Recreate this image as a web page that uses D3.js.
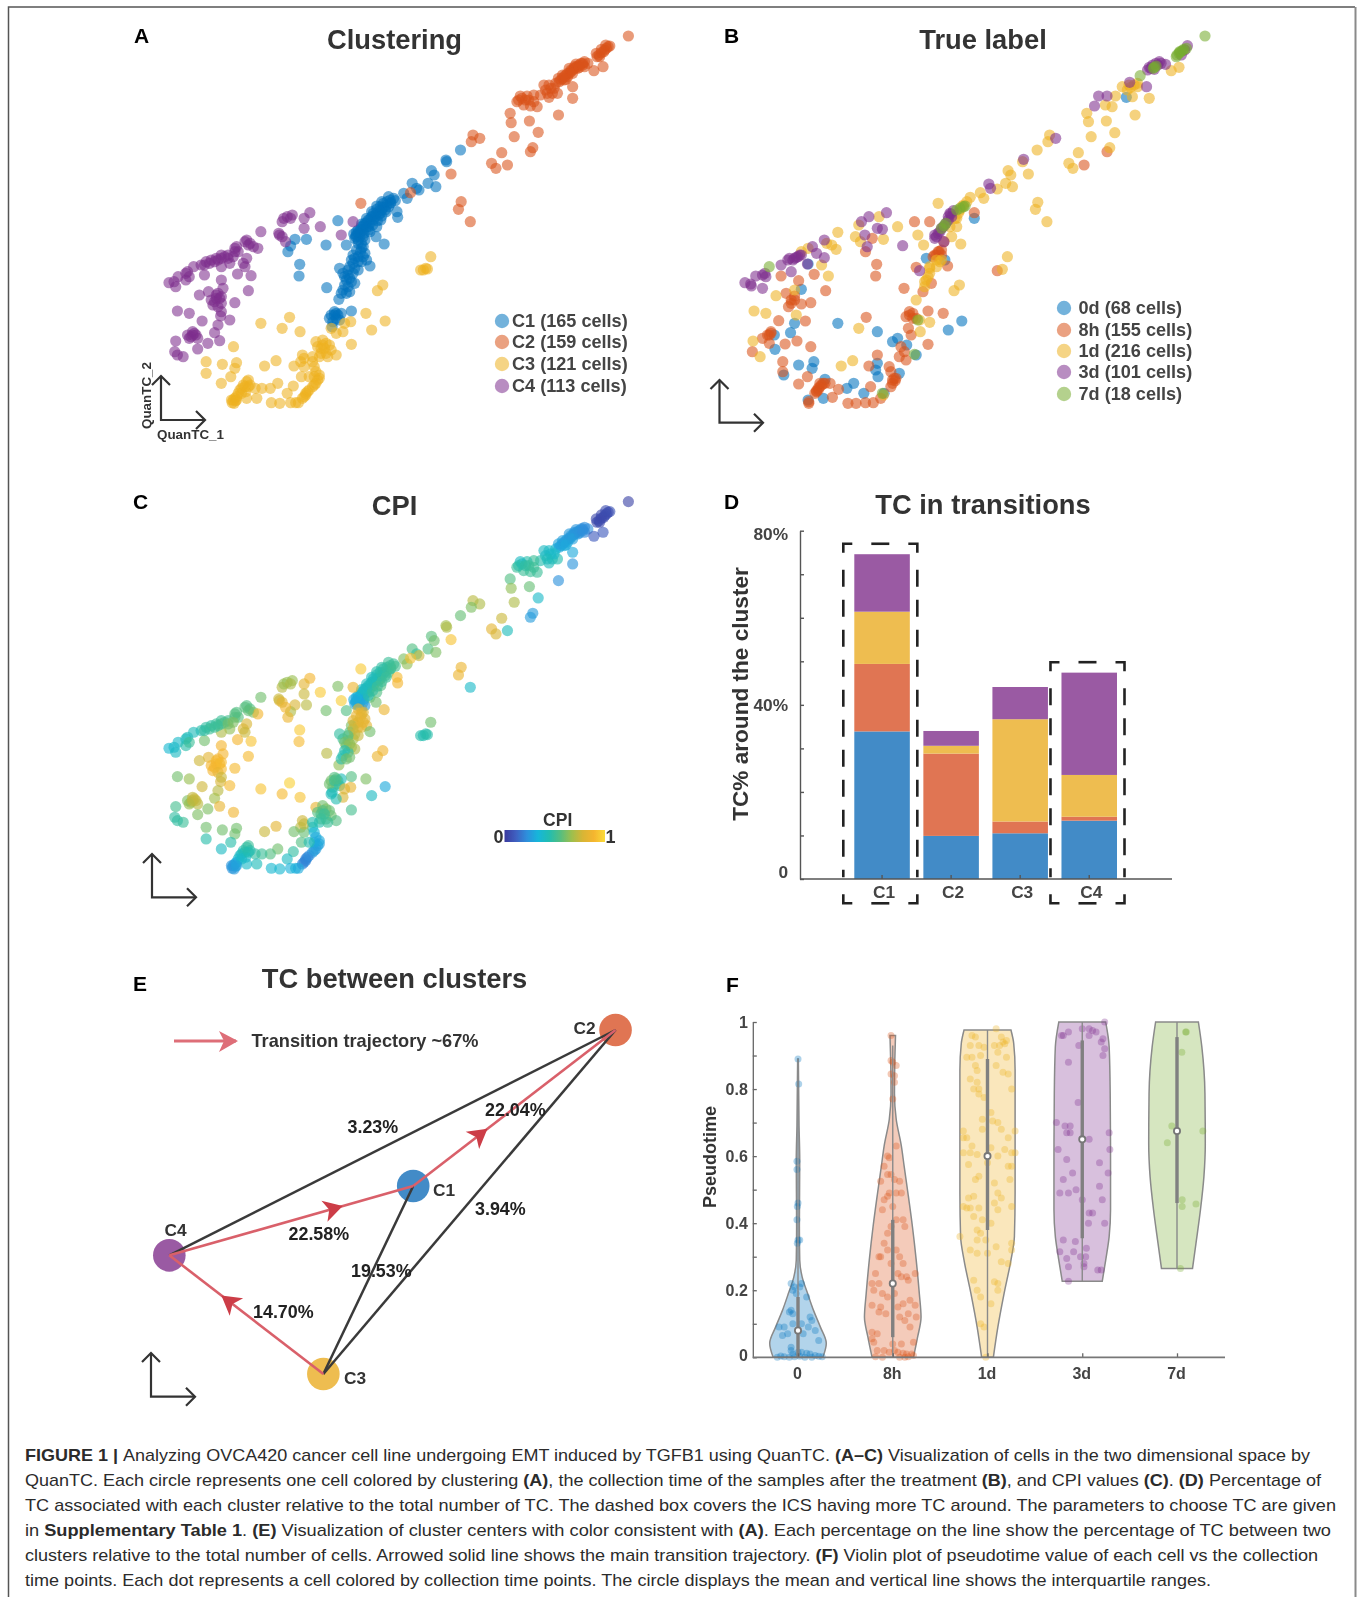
<!DOCTYPE html>
<html><head><meta charset="utf-8">
<style>
html,body{margin:0;padding:0;background:#fff}
svg{display:block;font-family:"Liberation Sans",Arial,sans-serif}
#chart{filter:blur(0.55px)}
</style>
<script src="https://cdn.jsdelivr.net/npm/d3@7/dist/d3.min.js"></script>
</head><body><svg id="root" width="1362" height="1597"><g id="chart"></g><g id="cap"></g></svg>
<script>
// ---------- DATA ----------
const clusterLabels=["C1 (165 cells)","C2 (159 cells)","C3 (121 cells)","C4 (113 cells)"];
const timeLabels=["0d (68 cells)","8h (155 cells)","1d (216 cells)","3d (101 cells)","7d (18 cells)"];
// embedding coordinates [QuanTC_1, QuanTC_2 (downward), CPI]
const c1Cells=[[1008,420,.58],[965,450,.68],[967,455,.7],[922,482,.56],[930,495,.6],[912,520,.55],[935,530,.62],[865,520,.55],[878,535,.5],[840,550,.62],[850,565,.65],[885,540,.75],
[810,565,.5],[800,570,.5],[790,575,.48],[780,580,.46],[770,590,.44],[760,598,.42],[750,610,.4],[745,620,.4],[735,630,.38],[725,640,.38],[715,650,.36],[705,660,.34],[700,675,.3],[695,685,.28],[710,670,.3],[720,660,.36],[730,650,.42],[740,640,.46],[755,620,.45],[770,610,.48],[785,600,.5],[795,590,.5],[775,600,.5],[765,615,.55],[750,630,.55],[735,650,.5],[720,680,.3],[705,690,.3],[715,700,.85],[725,690,.25],[740,665,.55],[760,650,.55],[772,630,.55],[820,605,.9],[822,622,.88],[758,680,.6],[782,702,.85],[670,705,.55],[610,705,.6],[645,632,.62],[552,688,.72],[518,688,.78],[505,708,.7],[497,725,.86],[532,763,.95],[530,798,.9],[612,833,.72],
[720,710,.8],[712,725,.8],[725,730,.82],[705,740,.8],[695,745,.78],[685,750,.62],[715,755,.82],[730,750,.82],[740,768,.6],[680,770,.55],[695,775,.72],[650,775,.48],[660,790,.5],[675,795,.6],[690,790,.68],[705,780,.75],[670,810,.62],[685,815,.66],[695,820,.7],[675,830,.45],[660,840,.45],[680,845,.6],[648,868,.65],
[635,905,.55],[625,915,.6],[645,915,.55],[655,910,.42],[640,925,.5],[630,935,.55],[685,903,.55],[628,950,.42],
[800,580,.5],[790,585,.5],[780,592,.48],[770,600,.46],[760,610,.44],[750,618,.42],[740,628,.42],[730,638,.4],[720,648,.4],[712,658,.38],[705,668,.32],[698,680,.3],[710,680,.28],[722,670,.3],[735,660,.45],[748,645,.48],[762,632,.5],[775,618,.5],[788,605,.5],[802,578,.5],[815,572,.52],[795,560,.5],[775,575,.48],[760,588,.46],[745,605,.42],[730,625,.42],[715,642,.4],[700,665,.32],[692,672,.3],[705,700,.82],[715,715,.82],[700,720,.84],[690,735,.8],[720,740,.84],[705,755,.82],[690,760,.75],[675,780,.55],[665,800,.6],[680,805,.65],[665,825,.45],[655,850,.45],[670,850,.6],[620,925,.6],[635,915,.5],[650,930,.48],[640,910,.55]];
const c2Cells=[[1505,78,.03],[1450,108,.08],[1440,115,.07],[1435,120,.06],[1425,128,.05],[1418,135,.05],[1412,140,.05],
[1385,160,.22],[1370,160,.22],[1360,165,.24],[1350,172,.26],[1340,180,.27],[1330,190,.28],[1320,195,.28],[1310,205,.3],[1300,215,.3],[1355,175,.25],[1345,170,.24],[1335,185,.27],[1325,200,.3],[1315,210,.32],[1375,170,.2],
[1403,182,.1],[1430,170,.1],[1290,220,.36],[1270,225,.38],[1260,240,.38],[1280,250,.42],[1295,250,.45],[1270,262,.42],[1340,230,.3],[1245,255,.45],[1225,255,.5],[1205,258,.46],[1185,258,.4],[1175,275,.5],[1195,285,.5],[1215,288,.5],[1235,290,.5],[1190,265,.42],[1340,265,.24],[1298,315,.23],
[1155,310,.55],[1158,338,.65],[1212,333,.58],[1238,367,.38],[1167,380,.7],[1130,428,.75],[1222,413,.26],[1215,425,.26],[1100,460,.82],[1113,475,.78],[1147,465,.42],[980,492,.93],[1045,375,.72],[1065,385,.7],[1040,395,.62],[860,548,.92],[713,580,.95],[1010,575,.85],[1002,598,.85],[1037,635,.38],
[1305,210,.27],[1315,200,.26],[1325,190,.26],[1335,180,.25],[1345,175,.24],[1355,168,.24],[1365,160,.22],[1375,155,.22],[1310,195,.26],[1330,175,.25],[1350,162,.24],[1298,205,.28],[1320,208,.3],[1340,190,.27],[1360,172,.24],[1370,165,.22],[1445,110,.06],[1432,125,.05],[1420,140,.05],[1410,130,.05],[1425,118,.05],[1438,105,.06],[1275,235,.38],[1255,225,.4],[1285,235,.38],[1265,250,.42],[1210,270,.5],[1180,270,.46],[1200,270,.48],[1225,275,.5]];
const c3Cells=[[920,740,.6],[905,775,.46],[890,780,.46],[898,780,.44],[910,777,.46],[778,825,.87],[762,842,.85],[728,910,.62],[785,933,.3],[745,960,.4],[685,1003,.52],[683,935,.84],[665,940,.8],[660,965,.78],[640,970,.44],[625,955,.42],
[417,940,.93],[502,922,.97],[480,955,.9],[533,965,.93],[336,1010,.87],[255,1055,.6],[255,1090,.46],[303,1063,.6],[345,1058,.6],[340,1075,.6],[328,1100,.46],[300,1120,.4],[428,1068,.75],[462,1052,.82],
[580,995,.84],[600,990,.6],[610,1000,.62],[595,1015,.5],[610,1030,.5],[625,1020,.6],[640,1035,.55],[590,1040,.45],[540,1035,.76],[535,1055,.72],[570,1055,.42],[515,1068,.6],[545,1070,.58],[575,1070,.34],[580,1085,.3],[537,1100,.55],[590,1105,.27],[580,1120,.26],[570,1130,.26],[513,1128,.48],[495,1150,.4],[550,1150,.2],[545,1160,.2],[555,1145,.2],[505,1178,.32],[520,1178,.32],[473,1180,.36],[448,1178,.36],[467,1120,.6],[445,1135,.55],[420,1135,.5],[400,1135,.48],[380,1110,.5],[370,1130,.42],[385,1125,.45],[360,1135,.4],[350,1150,.36],[372,1145,.38],[405,1165,.42],[375,1165,.38],[340,1165,.25],[332,1178,.24],[330,1170,.24],[338,1180,.25],[342,1172,.25],
[355,1140,.4],[365,1125,.44],[375,1115,.48],[345,1160,.32],[335,1170,.25],[360,1150,.38],[380,1130,.44],[345,1170,.28],[550,1155,.2],[540,1165,.2],[560,1140,.22],[585,1110,.28],[575,1125,.26],[590,1095,.3],[575,1100,.3],[600,1005,.55],[620,1005,.58],[585,1010,.55],[605,1015,.5],[595,1030,.5],[615,1040,.5],[545,1045,.74],[570,1040,.45],[560,1100,.45],[528,1178,.3]];
const c4Cells=[[562,608,.88],[510,615,.66],[495,620,.66],[480,635,.72],[545,625,.82],[545,655,.75],[593,650,.95],[690,635,.86],[655,675,.96],[472,675,.8],[490,695,.88],[470,670,.75],[417,665,.6],
[375,690,.55],[385,700,.55],[395,710,.62],[408,715,.88],[340,715,.56],[350,725,.56],[320,735,.52],[300,735,.5],[285,745,.5],[270,750,.48],[255,755,.48],[240,765,.46],[375,745,.78],[365,760,.78],[370,770,.75],[325,760,.65],[300,770,.7],
[218,770,.42],[200,785,.42],[172,800,.38],[145,818,.36],[165,830,.4],[195,810,.46],[250,795,.6],[348,792,.88],[388,797,.93],[300,810,.88],[262,845,.82],[235,855,.76],[380,842,.9],[290,850,.88],[285,865,.9],[275,885,.88],[300,880,.9],[340,878,.9],[170,903,.6],[205,910,.66],[243,933,.76],[298,918,.78],[290,945,.72],[280,968,.68],[220,970,.76],[210,980,.7],[230,985,.72],[165,993,.52],[295,992,.84],[260,1000,.62],[230,1017,.62],[162,1025,.48],[187,1040,.5],[170,1035,.48],[200,975,.62],[325,930,.9],
[300,745,.52],[310,740,.54],[290,750,.5],[280,755,.5],[265,760,.5],[250,765,.48],[320,745,.6],[340,725,.56],[335,740,.62],[345,710,.55],[380,705,.58],[370,695,.56],[285,855,.9],[295,865,.9],[280,875,.9],[290,890,.84],[270,870,.88],[300,860,.9],[300,905,.75],[215,965,.74],[225,975,.74],[205,985,.66],[215,975,.74],[160,815,.38],[195,790,.42],[205,800,.5],[485,625,.66],[505,625,.7],[480,680,.82],[305,835,.88]];
// collection time cells, same space as read in panel B
const t0Cells=[[812,625],[670,745],[725,750],[300,838],[408,940],[280,940],[268,968],[525,965],[775,933],[735,960],[570,995],[585,985],[612,1005],[220,975],[222,1018],[292,1065],[337,1055],[332,1075],[248,1095],[525,1060],[520,1080],[527,1100],[590,1090],[640,1035],[455,1120],[435,1135],[485,1150],[545,1150],[365,1165],[370,1108],[320,1170],[1262,262],[320,762]];
const t8hCells=[[1205,425],[1137,465],[812,608],[635,635],[680,635],[510,685],[490,725],[722,695],[708,725],[690,740],[700,735],[523,763],[520,798],[733,768],[640,772],[880,782],[604,835],[660,845],[685,820],[338,793],[240,798],[292,812],[372,842],[255,850],[280,858],[270,880],[300,882],[328,878],[262,890],[233,932],[312,933],[620,905],[610,920],[630,910],[640,925],[675,903],[720,910],[492,922],[617,955],[625,975],[210,970],[200,975],[185,985],[205,1000],[287,993],[252,1002],[328,1010],[155,1025],[595,1010],[605,1025],[590,1040],[610,1050],[675,1003],[245,1055],[245,1085],[500,1068],[525,1035],[560,1070],[565,1085],[318,1100],[292,1122],[505,1130],[575,1105],[570,1120],[565,1130],[360,1125],[350,1135],[340,1150],[370,1120],[385,1120],[410,1138],[392,1162],[438,1180],[462,1180],[490,1178],[513,1178],[535,1165],[322,1180],[322,1175],[355,1130],[345,1142],[578,1112],[715,720],[705,725],[695,735],[715,735],[350,1140],[365,1120],[345,1145],[355,1120],[570,1110],[580,1105],[210,965],[205,975],[620,915],[630,925],[270,870],[280,870]];
const t1dCells=[[1418,172],[1395,182],[1330,265],[1288,315],[1145,310],[1150,335],[1203,333],[1228,368],[1158,380],[1120,428],[1213,413],[1092,460],[1104,475],[1035,375],[1030,395],[998,420],[955,455],[912,482],[920,495],[972,492],[905,520],[925,530],[880,537],[830,548],[840,565],[800,562],[705,580],[1000,577],[993,598],[1027,635],[910,740],[895,778],[768,825],[752,842],[772,702],[662,705],[645,675],[745,680],[640,870],[680,790],[670,810],[665,830],[710,755],[700,770],[680,775],[650,930],[680,937],[652,965],[470,955],[452,1052],[418,1068],[1250,230],[1270,225],[1295,230],[1280,260],[1230,258],[1220,290],[1200,285],[1265,240],[585,650],[543,688],[530,620],[470,645],[460,680],[475,695],[408,667],[390,705],[403,718],[375,700],[360,765],[380,798],[225,857],[160,903],[195,910],[285,915],[157,993],[178,1040],[300,725],[320,715],[280,840],[755,625],[765,610],[760,650],[775,590],[740,650],[543,1155],[700,750],[715,750],[675,800],[665,815],[680,770],[1285,225],[1295,220],[1275,232],[760,625],[770,600],[780,585],[790,575]];
const t3dCells=[[1443,107],[1360,155],[1340,165],[1325,180],[1378,163],[1350,160],[1335,175],[1322,230],[1272,217],[1180,258],[1205,258],[1168,288],[1053,385],[958,448],[855,522],[860,535],[552,608],[500,620],[478,635],[525,655],[540,658],[488,675],[495,710],[600,707],[740,610],[735,630],[720,650],[700,680],[722,695],[745,620],[710,665],[695,685],[650,782],[368,690],[333,710],[345,730],[368,743],[295,735],[280,745],[260,750],[240,765],[270,785],[192,790],[165,798],[133,818],[152,828],[185,835],[318,762],[285,742],[195,800],[150,822],[1355,165],[1345,178],[1365,160],[1330,172],[1435,120],[1425,135],[735,620],[728,640],[715,655],[705,670],[742,612],[750,602],[695,675],[300,735],[290,740],[275,750],[265,745],[185,795]];
const t7dCells=[[1495,78],[1440,115],[1428,122],[1418,130],[1410,140],[1422,126],[1345,172],[1303,197],[785,588],[760,600],[723,647],[205,770],[635,1033],[645,930],[540,1150],[1412,135],[1420,125],[1432,118],[1342,175],[1350,168],[780,590],[770,595],[728,640],[715,655]];
// panel D
const barClusters=["C1","C2","C3","C4"];
const barBlue=[33.9,9.9,10.5,13.4];
const barOrange=[15.5,18.9,2.7,0.9];
const barYellow=[12,1.8,23.5,9.6];
const barPurple=[13.2,3.4,7.4,23.5];
const highlighted=["C1","C4"];
// panel E
const nodeNames=["C1","C2","C3","C4"];
const nodeXs=[868,1467,602,146];
const nodeYs=[678,210,1242,886];
const blackEdges=[["C4","C2"],["C1","C3"],["C2","C3"]];
const redEdges=[["C3","C4",.662],["C4","C1",.711],["C1","C2",.367]];
const edgeLabels=["3.23%","22.04%","22.58%","19.53%","3.94%","14.70%"];
// panel F
const violinNames=["0","8h","1d","3d","7d"];
const pseudotimeTicks=[0,.1,.2,.3,.4,.5,.6,.7,.8,.9,1];
const violinShapes=[
[[0,72],[.042,82],[.09,65],[.14,45],[.19,28],[.24,12],[.29,5],[.39,4],[.59,5],[.69,3],[.89,1]],
[[0,60],[.06,72],[.12,82],[.19,77],[.29,68],[.39,57],[.49,44],[.57,33],[.63,25],[.71,10],[.787,5],[.887,6],[.96,8]],
[[0,17],[.09,30],[.19,48],[.29,68],[.36,78],[.49,80],[.688,80],[.857,80],[.936,76],[.976,68]],
[[.227,58],[.29,68],[.36,78],[.44,82],[.588,82],[.787,81],[.926,78],[1,68]],
[[.265,45],[.34,55],[.44,68],[.539,78],[.638,82],[.787,81],[.926,72],[1,62]]];
const violinMeans=[.08,.22,.6,.65,.675];
const violinQ1=[0,.06,.38,.355,.46];
const violinQ3=[.18,.41,.89,.945,.955];
const violinThinLow=[0,0,0,.227,.265];
const violinThinHigh=[.89,.93,.976,1,1];
const violinDots=[
[[0,.89],[2,.815],[-3,.585],[-3,.56],[0,.46],[-2,.45],[-3,.41],[0,.35],[-2,.34],[5,.35],[-20,.22],[10,.22],[-10,.21],[5,.21],[-15,.2],[-5,.19],[25,.18],[-20,.14],[-25,.135],[-15,.13],[35,.12],[40,.11],[-15,.1],[-40,.09],[-55,.09],[10,.1],[30,.09],[50,.08],[-30,.07],[-45,.065],[15,.07],[60,.05],[-20,.03],[-20,.02],[-15,.01],[0,.015],[10,.015],[25,.012],[35,.01],[50,.005],[60,.003],[70,.002],[-60,0],[-40,.002],[-25,0],[-10,.002],[5,.003],[-50,.004],[20,0],[40,0]],
[[-5,.96],[-5,.885],[0,.88],[10,.87],[-5,.845],[5,.84],[5,.82],[0,.77],[10,.63],[-10,.595],[-15,.6],[-25,.57],[-15,.545],[-5,.545],[5,.53],[20,.525],[-35,.525],[-10,.49],[10,.49],[25,.49],[-15,.48],[-25,.47],[0,.45],[-30,.44],[10,.41],[30,.41],[35,.39],[-5,.39],[-15,.37],[-25,.34],[10,.32],[-35,.3],[-15,.32],[20,.3],[30,.28],[-40,.3],[-5,.28],[15,.25],[40,.24],[65,.25],[-50,.25],[-60,.22],[-40,.22],[25,.24],[45,.23],[-55,.2],[-30,.19],[-15,.18],[5,.19],[30,.16],[50,.17],[65,.155],[-60,.155],[-35,.15],[-40,.135],[15,.15],[45,.13],[68,.12],[-20,.13],[20,.12],[35,.11],[50,.09],[-60,.075],[-45,.07],[-60,.055],[-55,.045],[0,.04],[25,.04],[60,.045],[-45,.02],[-25,.02],[-10,.015],[5,.02],[15,.015],[30,.012],[40,.01],[55,.01],[-50,.002],[-30,0],[20,0],[35,0],[45,.002],[60,.005]],
[[25,.98],[-45,.96],[-35,.955],[40,.955],[55,.945],[-50,.93],[-25,.93],[-10,.925],[20,.93],[35,.93],[45,.94],[50,.935],[-60,.895],[-45,.895],[-20,.9],[30,.91],[55,.895],[-35,.87],[25,.87],[60,.845],[-30,.855],[45,.85],[-50,.83],[-30,.82],[-25,.8],[-40,.8],[70,.8],[-10,.775],[-25,.785],[10,.73],[15,.705],[-15,.71],[-70,.675],[30,.7],[40,.68],[-15,.68],[-70,.655],[-60,.655],[60,.655],[80,.675],[-45,.63],[-70,.61],[-50,.61],[10,.625],[50,.62],[70,.61],[80,.61],[-30,.605],[30,.6],[-55,.575],[0,.58],[60,.57],[70,.57],[-25,.54],[-35,.53],[20,.52],[65,.53],[-55,.475],[-40,.48],[30,.49],[40,.475],[-70,.45],[-60,.445],[-50,.445],[-25,.445],[20,.46],[30,.44],[70,.45],[-40,.42],[-15,.41],[10,.4],[-30,.38],[-20,.37],[-80,.36],[-30,.35],[70,.34],[25,.33],[-5,.35],[70,.32],[-50,.32],[-30,.31],[0,.31],[40,.285],[60,.28],[-40,.23],[20,.225],[30,.22],[-30,.2],[30,.2],[-20,.18],[10,.16],[-20,.1],[-10,.09],[-5,0]],
[[65,1],[-40,.97],[-55,.96],[-60,.96],[0,.98],[20,.98],[30,.975],[40,.97],[20,.96],[60,.95],[-10,.93],[55,.94],[65,.92],[60,.9],[-40,.88],[-75,.7],[-50,.69],[-35,.69],[-45,.67],[-35,.67],[-12,.76],[20,.65],[78,.67],[-70,.62],[80,.62],[-45,.59],[50,.58],[75,.55],[-28,.55],[-55,.53],[-18,.5],[50,.51],[-65,.49],[-40,.49],[58,.47],[0,.47],[30,.43],[20,.43],[65,.4],[18,.4],[-55,.35],[-20,.345],[-65,.315],[-25,.315],[12,.325],[-45,.295],[10,.3],[-5,.3],[-40,.27],[5,.28],[5,.27],[45,.26],[55,.26],[-40,.227]],
[[25,.97],[27,.97],[14,.91],[-15,.69],[75,.675],[-28,.64],[15,.47],[15,.45],[55,.457],[10,.265]]];
const captionLines=[
[["b","FIGURE 1 | "],["n","Analyzing OVCA420 cancer cell line undergoing EMT induced by TGFB1 using QuanTC. "],["b","(A–C)"],["n"," Visualization of cells in the two dimensional space by"]],
[["n","QuanTC. Each circle represents one cell colored by clustering "],["b","(A)"],["n",", the collection time of the samples after the treatment "],["b","(B)"],["n",", and CPI values "],["b","(C)"],["n",". "],["b","(D)"],["n"," Percentage of"]],
[["n","TC associated with each cluster relative to the total number of TC. The dashed box covers the ICS having more TC around. The parameters to choose TC are given"]],
[["n","in "],["b","Supplementary Table 1"],["n",". "],["b","(E)"],["n"," Visualization of cluster centers with color consistent with "],["b","(A)"],["n",". Each percentage on the line show the percentage of TC between two"]],
[["n","clusters relative to the total number of cells. Arrowed solid line shows the main transition trajectory. "],["b","(F)"],["n"," Violin plot of pseudotime value of each cell vs the collection"]],
[["n","time points. Each dot represents a cell colored by collection time points. The circle displays the mean and vertical line shows the interquartile ranges."]]];
const captionEnds=[1310,1321,1336,1331,1318,1211];

// ---------- STYLE ----------
const MAT={blue:"#0072BD",orange:"#D95319",yellow:"#EDB120",purple:"#7E2F8E",green:"#77AC30"};
const FLAT={blue:"#428BC7",orange:"#E07553",yellow:"#EEBD50",purple:"#9A5AA3"};
const cpiStops=["#3B3A9E","#3F5FC0","#2E8FDC","#16B6DA","#22BDB0","#55BE80","#9CBF4E","#D8B535","#F5B52F","#FADB3A"];
const cpiColor=d3.scaleLinear().domain(cpiStops.map((_,i)=>i/(cpiStops.length-1))).range(cpiStops).interpolate(d3.interpolateRgb);
const INK="#333";
const svg=d3.select("#chart");
const R=5.6, A=.58, TITLE=27.3;

function label(s,x,y,size,opts={}){
  const t=svg.append("text").attr("x",x).attr("y",y).attr("font-size",size).attr("font-weight",opts.weight||"bold")
    .attr("fill",opts.fill||INK).attr("text-anchor",opts.anchor||"start").text(s);
  if(opts.rot!==undefined)t.attr("transform",`rotate(${opts.rot} ${x} ${y})`);
  return t;
}
function miniAxes(cx,cy,topY,rightX){
  const g=svg.append("g").attr("fill","none").attr("stroke","#333").attr("stroke-width",2.2);
  g.append("path").attr("d",`M${cx},${topY}V${cy}H${rightX}`);
  g.append("path").attr("d",`M${cx-9},${topY+9}L${cx},${topY}L${cx+9},${topY+9}`);
  g.append("path").attr("d",`M${rightX-9},${cy-9}L${rightX},${cy}L${rightX-9},${cy+9}`);
}
function dots(cells,x,y,color,opacity=A){
  svg.append("g").selectAll("circle").data(cells).join("circle")
    .attr("cx",d=>x(d[0])).attr("cy",d=>y(d[1])).attr("r",R)
    .attr("fill",color).attr("fill-opacity",opacity);
}

// frame
svg.append("path").attr("d","M8.5,1597V7H1355").attr("fill","none").attr("stroke","#555").attr("stroke-width",1.5);
svg.append("line").attr("x1",1355.5).attr("x2",1355.5).attr("y1",7).attr("y2",1597).attr("stroke","#8a8a8a").attr("stroke-width",2);

// ---------- PANEL A ----------
const ax=d3.scaleLinear().domain([0,1569]).range([120,650]);
const ay=d3.scaleLinear().domain([0,1320]).range([10,450]);
label("A",134,43,21,{fill:"#000"});
label("Clustering",394.5,49,TITLE,{anchor:"middle"});
[[c1Cells,MAT.blue],[c2Cells,MAT.orange],[c3Cells,MAT.yellow],[c4Cells,MAT.purple]].forEach(([c,col])=>dots(c,ax,ay,col));
[MAT.blue,MAT.orange,MAT.yellow,MAT.purple].forEach((col,i)=>{
  const yy=[321,342,364,386][i];
  svg.append("circle").attr("cx",502).attr("cy",yy).attr("r",7.2).attr("fill",col).attr("fill-opacity",.55);
  label(clusterLabels[i],512,yy+6,18.1,{fill:"#444"});
});
miniAxes(161,420,376,205);
label("QuanTC_1",157,439,13.4);
label("QuanTC_2",151,429,13.4,{rot:-90});

// ---------- PANEL B ----------
const bx=d3.scaleLinear().domain([0,1569]).range([700,1230]);
label("B",724,43,21,{fill:"#000"});
label("True label",983,49,TITLE,{anchor:"middle"});
[[t0Cells,MAT.blue],[t8hCells,MAT.orange],[t1dCells,MAT.yellow],[t3dCells,MAT.purple],[t7dCells,MAT.green]].forEach(([c,col])=>dots(c,bx,ay,col));
[MAT.blue,MAT.orange,MAT.yellow,MAT.purple,MAT.green].forEach((col,i)=>{
  const yy=[308,330,351,372,394][i];
  svg.append("circle").attr("cx",1064).attr("cy",yy).attr("r",7.2).attr("fill",col).attr("fill-opacity",.55);
  label(timeLabels[i],1078.5,yy+6,18.1,{fill:"#444"});
});
miniAxes(719.5,422.7,380,763);

// ---------- PANEL C ----------
const cy=d3.scaleLinear().domain([0,1320]).range([475.6,915.6]);
label("C",133,509,21,{fill:"#000"});
label("CPI",394.5,515,TITLE,{anchor:"middle"});
dots([...c1Cells,...c2Cells,...c3Cells,...c4Cells],ax,cy,d=>cpiColor(d[2]),.62);
const defs=svg.append("defs");
const grad=defs.append("linearGradient").attr("id","cpiGrad");
cpiStops.forEach((c,i)=>grad.append("stop").attr("offset",i/(cpiStops.length-1)).attr("stop-color",c));
svg.append("rect").attr("x",504.5).attr("y",830).attr("width",100.5).attr("height",12).attr("fill","url(#cpiGrad)");
label("CPI",557.7,826,17.5,{anchor:"middle"});
label("0",503.5,843,18,{anchor:"end"});
label("1",605.5,843,18);
miniAxes(152,897.3,854,196);

// ---------- PANEL D ----------
label("D",724,509,21,{fill:"#000"});
label("TC in transitions",983,514,TITLE,{anchor:"middle"});
const dx=d3.scaleBand().domain(barClusters).range([854.3,1117]).paddingInner(.196).paddingOuter(0);
const dy=d3.scaleLinear().domain([0,80]).range([879,530.7]);
const stack=d3.stack().keys(["blue","orange","yellow","purple"])(barClusters.map((c,i)=>({c,blue:barBlue[i],orange:barOrange[i],yellow:barYellow[i],purple:barPurple[i]})));
stack.forEach(s=>{
  svg.append("g").selectAll("rect").data(s).join("rect")
    .attr("x",d=>dx(d.data.c)).attr("width",dx.bandwidth())
    .attr("y",d=>dy(d[1])).attr("height",d=>dy(d[0])-dy(d[1])).attr("fill",FLAT[s.key]);
});
const dyAxis=svg.append("g").attr("transform","translate(800,0)")
  .call(d3.axisLeft(dy).tickValues(d3.range(0,81,10)).tickSize(-4).tickSizeOuter(0).tickPadding(12).tickFormat(v=>v===0?"0":(v%40===0?v+"%":"")));
const dxAxis=svg.append("g").attr("transform","translate(0,879)")
  .call(d3.axisBottom(dx).tickSize(-4).tickSizeOuter(0).tickPadding(7));
dxAxis.select(".domain").remove();
svg.append("line").attr("x1",800).attr("x2",1172).attr("y1",879).attr("y2",879).attr("stroke","#555").attr("stroke-width",1.6);
[dyAxis,dxAxis].forEach(g=>{g.attr("font-family",null).attr("font-size",null);
  g.selectAll("text").attr("font-size",17.3).attr("font-weight","bold").attr("fill","#444");
  g.selectAll("line,path").attr("stroke","#555").attr("stroke-width",1.4);});
dyAxis.selectAll("text").attr("y",v=>v===0?-7:(v===80?3:0));
dxAxis.selectAll("text").attr("x",2);
label("TC% around the cluster",748,694,22.6,{anchor:"middle",rot:-90});
highlighted.forEach(c=>{
  const i=barClusters.indexOf(c);
  const total=barBlue[i]+barOrange[i]+barYellow[i]+barPurple[i];
  const x0=dx(c)-11, x1=dx(c)+dx.bandwidth()+7.5, y0=dy(total+2.4), y1=903.3;
  const dash="17 13";
  const g=svg.append("g").attr("fill","none").attr("stroke","#222").attr("stroke-width",2.6);
  g.append("path").attr("d",`M${x0},${y0+9}V${y0}H${x0+9}`);
  g.append("path").attr("d",`M${x1-9},${y0}H${x1}V${y0+9}`);
  g.append("path").attr("d",`M${x0},${y1-9}V${y1}H${x0+9}`);
  g.append("path").attr("d",`M${x1-9},${y1}H${x1}V${y1-9}`);
  const mid=(x0+x1)/2;
  g.append("line").attr("x1",mid-9).attr("x2",mid+9).attr("y1",y0).attr("y2",y0);
  g.append("line").attr("x1",mid-9).attr("x2",mid+9).attr("y1",y1).attr("y2",y1);
  [x0,x1].forEach(xx=>g.append("line").attr("x1",xx).attr("x2",xx).attr("y1",y0+26).attr("y2",y1-26).attr("stroke-dasharray",dash));
});

// ---------- PANEL E ----------
label("E",133,991,21,{fill:"#000"});
label("TC between clusters",394.5,988,TITLE,{anchor:"middle"});
const ex=d3.scaleLinear().domain([0,1569]).range([120,650]);
const ey=d3.scaleLinear().domain([0,1350]).range([960,1410]);
const node=n=>{const i=nodeNames.indexOf(n);return [ex(nodeXs[i]),ey(nodeYs[i])];};
const nodeFill={C1:FLAT.blue,C2:FLAT.orange,C3:FLAT.yellow,C4:FLAT.purple};
svg.append("g").selectAll("circle").data(nodeNames).join("circle")
  .attr("cx",n=>node(n)[0]).attr("cy",n=>node(n)[1]).attr("r",16.3).attr("fill",n=>nodeFill[n]);
svg.append("g").selectAll("line").data(blackEdges).join("line")
  .attr("x1",e=>node(e[0])[0]).attr("y1",e=>node(e[0])[1]).attr("x2",e=>node(e[1])[0]).attr("y2",e=>node(e[1])[1])
  .attr("stroke","#3a3a3a").attr("stroke-width",2.5);
svg.append("g").selectAll("line").data(redEdges).join("line")
  .attr("x1",e=>node(e[0])[0]).attr("y1",e=>node(e[0])[1]).attr("x2",e=>node(e[1])[0]).attr("y2",e=>node(e[1])[1])
  .attr("stroke","#D9606A").attr("stroke-width",2.6);
svg.append("g").selectAll("path").data(redEdges).join("path")
  .attr("d","M0,0L-19,-11L-14,0L-19,11Z").attr("fill","#CC3D47")
  .attr("transform",e=>{const a=node(e[0]),b=node(e[1]);
    const x=a[0]+(b[0]-a[0])*e[2],y=a[1]+(b[1]-a[1])*e[2];
    return `translate(${x},${y}) rotate(${Math.atan2(b[1]-a[1],b[0]-a[0])*180/Math.PI})`;});
svg.append("line").attr("x1",174).attr("x2",236).attr("y1",1041).attr("y2",1041).attr("stroke","#DE6E78").attr("stroke-width",2.8);
svg.append("path").attr("d","M238,1041L219,1031L224,1041L219,1052Z").attr("fill","#DE6E78");
label("Transition trajectory ~67%",251.5,1046.5,18.2,{fill:"#333"});
const edgeLabelPos=[[347.5,1133],[485,1116],[288.5,1239.5],[351,1276.5],[475,1215],[253,1317.5]];
edgeLabels.forEach((s,i)=>label(s,edgeLabelPos[i][0],edgeLabelPos[i][1],17.9,{fill:"#222"}));
[["C2",573.5,1034],["C1",433,1196],["C4",164.5,1236],["C3",344,1384]].forEach(d=>label(d[0],d[1],d[2],17.3));
miniAxes(151,1396.7,1353,195);

// ---------- PANEL F ----------
label("F",726,991.5,21,{fill:"#000"});
const fx=d3.scalePoint().domain(violinNames).range([798,1177]);
const fy=d3.scaleLinear().domain([0,1]).range([1357.3,1022]);
const fw=d3.scaleLinear().domain([0,100]).range([0,34.5]);
const violinCols=[MAT.blue,MAT.orange,MAT.yellow,MAT.purple,MAT.green];
violinNames.forEach((n,i)=>{
  const c=fx(n), col=violinCols[i];
  const area=d3.area().y(d=>fy(d[0])).x0(d=>c-fw(d[1])).x1(d=>c+fw(d[1])).curve(d3.curveMonotoneY);
  svg.append("path").attr("d",area(violinShapes[i])).attr("fill",col).attr("fill-opacity",.3).attr("stroke","#8a8a8a").attr("stroke-width",1.5);
  svg.append("g").selectAll("circle").data(violinDots[i]).join("circle")
    .attr("cx",d=>c+fw(d[0])).attr("cy",d=>fy(d[1])).attr("r",3.5).attr("fill",col).attr("fill-opacity",.32);
  svg.append("line").attr("x1",c).attr("x2",c).attr("y1",fy(violinThinLow[i])).attr("y2",fy(violinThinHigh[i])).attr("stroke","#8a8a8a").attr("stroke-width",1.4);
  svg.append("line").attr("x1",c).attr("x2",c).attr("y1",fy(violinQ1[i])).attr("y2",fy(violinQ3[i])).attr("stroke","#808080").attr("stroke-width",3.4);
  svg.append("circle").attr("cx",c).attr("cy",fy(violinMeans[i])).attr("r",3.1).attr("fill","#fff").attr("stroke","#777").attr("stroke-width",1.8);
});
const fyAxis=svg.append("g").attr("transform","translate(752.8,0)")
  .call(d3.axisLeft(fy).tickValues(pseudotimeTicks).tickSize(-4).tickSizeOuter(0).tickPadding(5)
  .tickFormat(v=>Math.round(v*10)%2===0?(v===0||v===1?String(v):v.toFixed(1)):""));
const fxAxis=svg.append("g").attr("transform","translate(0,1357.3)")
  .call(d3.axisBottom(fx).tickSize(-4).tickSizeOuter(0).tickPadding(10));
fxAxis.select(".domain").remove();
svg.append("line").attr("x1",752.8).attr("x2",1225).attr("y1",1357.3).attr("y2",1357.3).attr("stroke","#777").attr("stroke-width",1.8);
[fyAxis,fxAxis].forEach(g=>{g.attr("font-family",null).attr("font-size",null);
  g.selectAll("text").attr("font-size",16).attr("font-weight","bold").attr("fill","#444");
  g.selectAll("line,path").attr("stroke","#666").attr("stroke-width",1.3);});
fyAxis.selectAll("text").attr("y",v=>v===0?-2:0);
fxAxis.selectAll("text").attr("x",-1);
label("Pseudotime",716,1157,18,{anchor:"middle",rot:-90});

// ---------- CAPTION ----------
const cap=d3.select("#cap");
captionLines.forEach((segs,i)=>{
  const t=cap.append("text").attr("x",25).attr("y",1460.5+i*25).attr("font-size",16.6).attr("fill","#2b2b2b");
  segs.forEach(s=>t.append("tspan").attr("font-weight",s[0]==="b"?"bold":"normal").text(s[1]));
  t.attr("textLength",captionEnds[i]-25).attr("lengthAdjust","spacingAndGlyphs");
});
</script></body></html>
